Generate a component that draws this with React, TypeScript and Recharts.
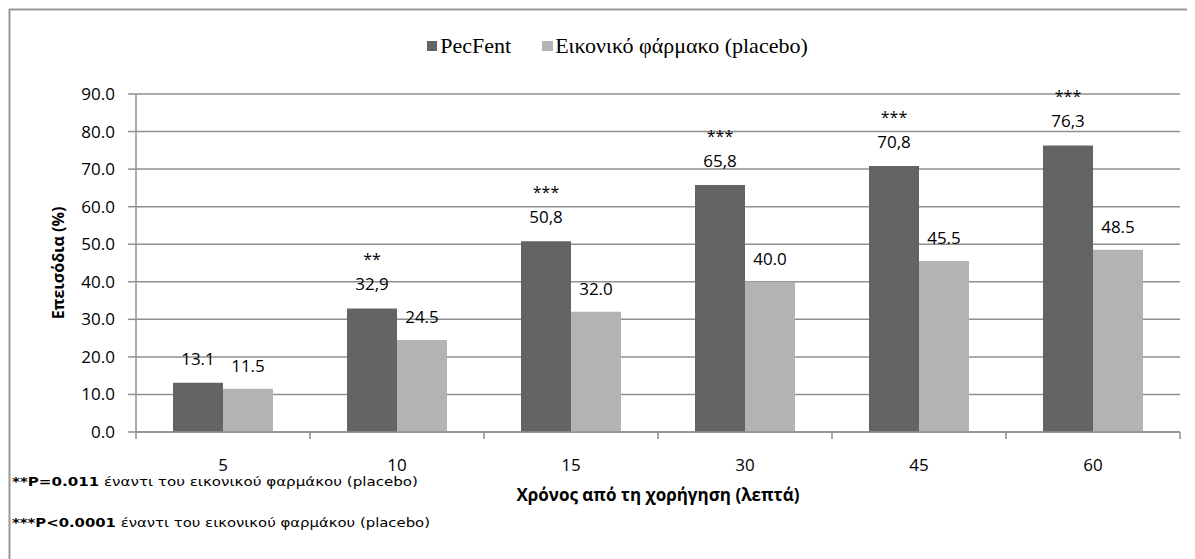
import React from 'react';
import { BarChart, Bar, XAxis, YAxis, CartesianGrid, Legend, LabelList, Label } from 'recharts';

// Δεδομένα γραφήματος
const categories = ['5', '10', '15', '30', '45', '60'];
const pecfentValues = [13.1, 32.9, 50.8, 65.8, 70.8, 76.3];
const pecfentLabels = ['13.1', '32,9', '50,8', '65,8', '70,8', '76,3'];
const placeboValues = [11.5, 24.5, 32.0, 40.0, 45.5, 48.5];
const placeboLabels = ['11.5', '24.5', '32.0', '40.0', '45.5', '48.5'];
const significance = ['', '**', '***', '***', '***', '***'];
const yTicks = [0, 10, 20, 30, 40, 50, 60, 70, 80, 90];

const W = 1187;
const H = 551;
const MARGIN = { top: 86, right: 15, bottom: 97, left: 0 };
const Y_AXIS_W = 128;
const PLOT_W = W - MARGIN.left - MARGIN.right - Y_AXIS_W;
const BAND = PLOT_W / categories.length;

const DARK = '#646464';
const LIGHT = '#b3b3b3';
const GRID = '#8f8f8f';
const FONT = '"Open Sans", sans-serif';

const data = categories.map((c, i) => ({
  name: c,
  pecfent: pecfentValues[i],
  placebo: placeboValues[i],
}));

const XTick = (props: any) => {
  const { x, y, payload, index } = props;
  const left = x - BAND / 2;
  const right = x + BAND / 2;
  return (
    <g>
      <line x1={left} x2={left} y1={y} y2={y + 7} stroke={GRID} strokeWidth={1.5} />
      {index === categories.length - 1 && (
        <line x1={right} x2={right} y1={y} y2={y + 7} stroke={GRID} strokeWidth={1.5} />
      )}
      <text x={x} y={y + 39} textAnchor="middle" fontSize={17} fill="#000" fontFamily={FONT}>
        {payload.value}
      </text>
    </g>
  );
};

const PecLabel = (props: any) => {
  const { x, y, width, index } = props;
  const cx = x + width / 2;
  return (
    <g>
      {significance[index] && (
        <text x={cx} y={y - 43} textAnchor="middle" fontSize={16} fill="#000" fontFamily={FONT}>
          {significance[index]}
        </text>
      )}
      <text x={cx} y={y - 18} textAnchor="middle" fontSize={17} fill="#000" fontFamily={FONT}>
        {pecfentLabels[index]}
      </text>
    </g>
  );
};

const PlaceboLabel = (props: any) => {
  const { x, y, width, index } = props;
  return (
    <text x={x + width / 2} y={y - 17} textAnchor="middle" fontSize={17} fill="#000" fontFamily={FONT}>
      {placeboLabels[index]}
    </text>
  );
};

const LegendContent = () => (
  <div style={{ display: 'flex', justifyContent: 'center', fontFamily: '"Liberation Serif", serif', fontSize: 22, color: '#000', lineHeight: '24px' }}>
    <span style={{ display: 'flex', alignItems: 'center', marginRight: 31 }}>
      <span style={{ width: 10, height: 10, background: DARK, marginRight: 3 }} />
      PecFent
    </span>
    <span style={{ display: 'flex', alignItems: 'center' }}>
      <span style={{ width: 11, height: 10, background: LIGHT, marginRight: 2 }} />
      Εικονικό φάρμακο (placebo)
    </span>
  </div>
);

export default function App() {
  return (
    <div style={{ position: 'relative', width: W, height: H, background: '#fff' }}>
      <BarChart width={W} height={H} data={data} margin={MARGIN} barCategoryGap={37} barGap={0}>
        <CartesianGrid vertical={false} stroke={GRID} strokeWidth={1.5} />
        <XAxis
          dataKey="name"
          axisLine={{ stroke: GRID, strokeWidth: 1.5 }}
          tickLine={false}
          tickSize={0}
          tickMargin={0}
          height={30}
          tick={<XTick />}
          interval={0}
        >
          <Label
            value="Χρόνος από τη χορήγηση (λεπτά)"
            position="bottom"
            offset={27}
            style={{ fontFamily: FONT, fontSize: 17, fontWeight: 700, fill: '#000' }}
          />
        </XAxis>
        <YAxis
          width={Y_AXIS_W}
          domain={[0, 90]}
          ticks={yTicks}
          interval={0}
          tickFormatter={(v: number) => v.toFixed(1)}
          axisLine={{ stroke: GRID, strokeWidth: 1.5 }}
          tickLine={{ stroke: GRID, strokeWidth: 1.5 }}
          tickSize={8}
          tickMargin={13}
          tick={{ fontFamily: FONT, fontSize: 17, fill: '#000' }}
        >
          <Label
            value="Επεισόδια (%)"
            angle={-90}
            position="insideLeft"
            offset={50}
            style={{ fontFamily: FONT, fontSize: 16, fontWeight: 700, fill: '#000', textAnchor: 'middle' }}
          />
        </YAxis>
        <Legend
          verticalAlign="middle"
          align="center"
          content={<LegendContent />}
          wrapperStyle={{ top: 26, left: 0, width: 1219 }}
        />
        <Bar dataKey="pecfent" name="PecFent" fill={DARK} isAnimationActive={false}>
          <LabelList dataKey="pecfent" content={<PecLabel />} />
        </Bar>
        <Bar dataKey="placebo" name="Εικονικό φάρμακο (placebo)" fill={LIGHT} isAnimationActive={false}>
          <LabelList dataKey="placebo" content={<PlaceboLabel />} />
        </Bar>
      </BarChart>
      <svg
        width={W}
        height={H}
        style={{ position: 'absolute', left: 0, top: 0, pointerEvents: 'none' }}
      >
        <line x1={1} x2={W} y1={1.5} y2={1.5} stroke="#999" strokeWidth={2} />
        <line x1={1.5} x2={1.5} y1={1} y2={H} stroke="#999" strokeWidth={2} />
        <text x={4} y={478} fontSize={13} fontFamily="'DejaVu Sans Condensed', 'DejaVu Sans', sans-serif" fill="#000" textLength={406} lengthAdjust="spacingAndGlyphs">
          <tspan fontWeight={700}>**P=0.011</tspan> έναντι του εικονικού φαρμάκου (placebo)
        </text>
        <text x={4} y={519} fontSize={13} fontFamily="'DejaVu Sans Condensed', 'DejaVu Sans', sans-serif" fill="#000" textLength={418} lengthAdjust="spacingAndGlyphs">
          <tspan fontWeight={700}>***P&lt;0.0001</tspan> έναντι του εικονικού φαρμάκου (placebo)
        </text>
      </svg>
    </div>
  );
}
